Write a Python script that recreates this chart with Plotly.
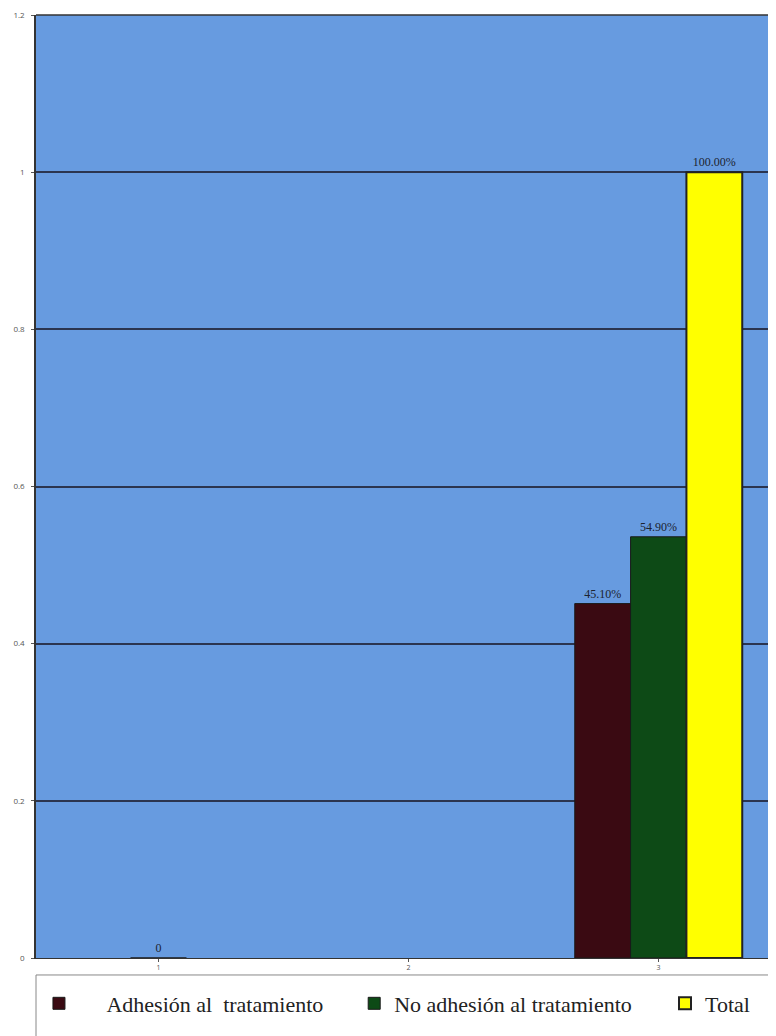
import plotly.graph_objects as go

categories = [1, 2, 3]
adhesion = [None, None, 0.451]
no_adhesion = [0, None, 0.536]
total = [None, None, 1.0]
adhesion_text = ["", "", "45.10%"]
no_adhesion_text = ["0", "", "54.90%"]
total_text = ["", "", "100.00%"]
y_ticks = [0, 0.2, 0.4, 0.6, 0.8, 1, 1.2]
y_tick_labels = ["0", "0.2", "0.4", "0.6", "0.8", "1", "1.2"]
series_names = ["\u00a0\u00a0\u00a0\u00a0\u00a0Adhesión al\u00a0 tratamiento",
                "No adhesión al tratamiento", "Total"]

label_font = dict(family="Liberation Serif", size=12, color="#1c2430")
legend_font = dict(family="Liberation Serif", size=22, color="#222222")

fig = go.Figure()
fig.add_trace(go.Bar(x=categories, y=adhesion, name=series_names[0], legend="legend",
                     marker=dict(color="#3a0a12", line=dict(color="#1a1a1a", width=1)),
                     text=adhesion_text, textposition="outside", textfont=label_font,
                     cliponaxis=False))
fig.add_trace(go.Bar(x=categories, y=no_adhesion, name=series_names[1], legend="legend2",
                     marker=dict(color="#0d4a16", line=dict(color="#1a1a1a", width=1)),
                     text=no_adhesion_text, textposition="outside", textfont=label_font,
                     cliponaxis=False))
fig.add_trace(go.Bar(x=categories, y=total, name=series_names[2], legend="legend3",
                     marker=dict(color="#ffff00", line=dict(color="#222222", width=2)),
                     text=total_text, textposition="outside", textfont=label_font,
                     cliponaxis=False))

leg_common = dict(orientation="h", y=-0.026, xanchor="left", yanchor="top",
                  bgcolor="rgba(0,0,0,0)", borderwidth=0, font=legend_font)

fig.update_layout(
    width=768, height=1028,
    margin=dict(l=28, r=0, t=7, b=78),
    paper_bgcolor="white",
    plot_bgcolor="#679be0",
    barmode="group",
    bargap=0.33,
    bargroupgap=0.0,
    showlegend=True,
    legend=dict(x=0.004, **leg_common),
    legend2=dict(x=0.43, **leg_common),
    legend3=dict(x=0.85, **leg_common),
    xaxis=dict(range=[0.51, 3.47], tickmode="array", tickvals=categories,
               ticktext=["1", "2", "3"], tickfont=dict(size=7, color="#555555"),
               ticks="outside", ticklen=3, tickcolor="#555555",
               showgrid=False, showline=True, linecolor="#333333", linewidth=1,
               zeroline=False),
    yaxis=dict(range=[0, 1.2], tickmode="array", tickvals=y_ticks,
               ticktext=y_tick_labels, tickfont=dict(size=8, color="#555555"),
               ticks="outside", ticklen=3, tickcolor="#555555", ticklabelstandoff=5,
               showgrid=True, gridcolor="#2b3550", gridwidth=1.5,
               showline=True, linecolor="#333333", linewidth=1.5,
               zeroline=False),
    shapes=[
        dict(type="rect", xref="paper", yref="paper", x0=0.0, x1=0.995,
             y0=-0.09, y1=-0.018, line=dict(color="#888888", width=1),
             fillcolor="white", layer="below"),
        dict(type="line", xref="paper", yref="paper", x0=0, x1=1, y0=1, y1=1,
             line=dict(color="#333333", width=1.5)),
    ],
)

fig.write_html("out.html")
